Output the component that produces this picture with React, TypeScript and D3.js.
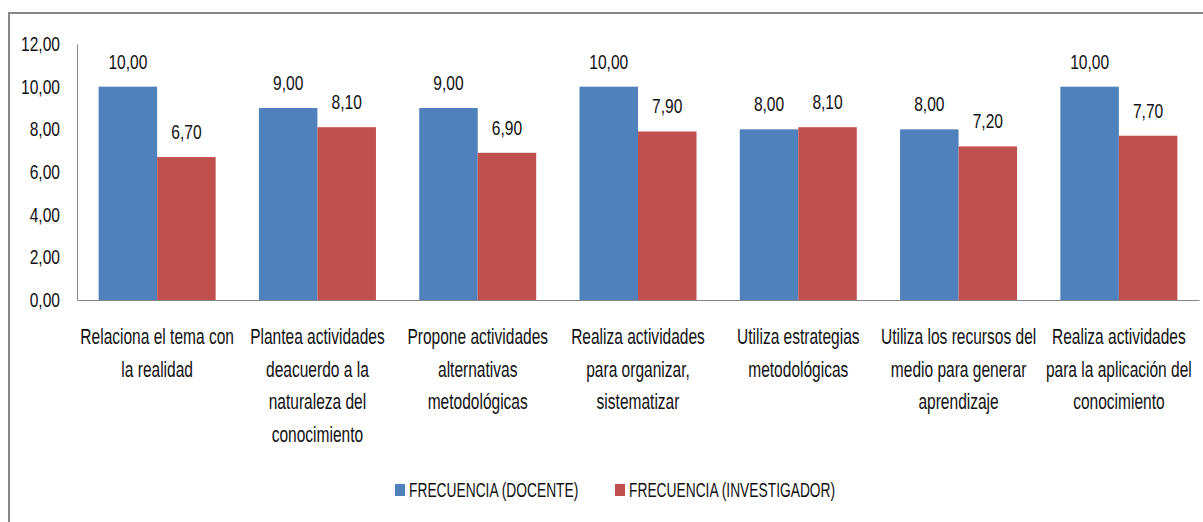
import React, { useRef, useEffect } from 'react';
import * as d3 from 'd3';

const categories = [
  ['Relaciona el tema con', 'la realidad'],
  ['Plantea actividades', 'deacuerdo a la', 'naturaleza del', 'conocimiento'],
  ['Propone actividades', 'alternativas', 'metodológicas'],
  ['Realiza actividades', 'para organizar,', 'sistematizar'],
  ['Utiliza estrategias', 'metodológicas'],
  ['Utiliza los recursos del', 'medio para generar', 'aprendizaje'],
  ['Realiza actividades', 'para la aplicación del', 'conocimiento'],
];
const seriesNames = ['FRECUENCIA (DOCENTE)', 'FRECUENCIA (INVESTIGADOR)'];
const docente = [10, 9, 9, 10, 8, 8, 10];
const investigador = [6.7, 8.1, 6.9, 7.9, 8.1, 7.2, 7.7];
const yTicks = [0, 2, 4, 6, 8, 10, 12];
const colours = ['#4F81BD', '#C0504D'];

const W = 1203;
const H = 522;
// the original text is a squeezed Calibri, so use Arial metrics and squeeze horizontally
const FONT = '"Liberation Sans", Arial, sans-serif';
const SX_NUM = 0.76;
const SX_CAT = 0.706;
const SX_LEG = 0.69;

const locale = d3.formatLocale({ decimal: ',', thousands: '.', grouping: [3], currency: ['', ''] });
const fmt = locale.format('.2f');

const App = () => {
  const ref = useRef<SVGSVGElement>(null);

  useEffect(() => {
    const svg = d3.select(ref.current);
    svg.selectAll('*').remove();

    // chart border (runs off the right and bottom edge like the original)
    svg.append('rect')
      .attr('x', 9).attr('y', 13)
      .attr('width', 1210).attr('height', 530)
      .attr('fill', '#fff')
      .attr('stroke', '#878787')
      .attr('stroke-width', 2);

    const left = 77, right = 1199, top = 44, bottom = 300;
    const keys = categories.map((_, i) => String(i));

    const x = d3.scaleBand().domain(keys).range([left, right]).paddingInner(0.27).paddingOuter(0.135);
    const xs = d3.scaleBand().domain(seriesNames).range([0, x.bandwidth()]);
    const y = d3.scaleLinear().domain([0, 12]).range([bottom, top]);

    // y axis
    const yAxis = svg.append('g')
      .attr('transform', `translate(${left},0)`)
      .call(d3.axisLeft(y).tickValues(yTicks).tickFormat(d => fmt(d as number)).tickSize(0).tickPadding(16));
    yAxis.select('.domain').attr('stroke', '#868686');
    yAxis.selectAll('text')
      .attr('x', -17 / SX_NUM)
      .attr('transform', `scale(${SX_NUM},1)`)
      .attr('font-family', FONT).attr('font-size', 20.5).attr('fill', '#111');

    const series = [docente, investigador];
    series.forEach((vals, si) => {
      const g = svg.append('g');
      g.selectAll('rect')
        .data(vals)
        .join('rect')
        .attr('x', (_, i) => x(keys[i])! + xs(seriesNames[si])!)
        .attr('y', d => y(d))
        .attr('width', xs.bandwidth())
        .attr('height', d => y(0) - y(d))
        .attr('fill', colours[si]);
      g.selectAll('text')
        .data(vals)
        .join('text')
        .attr('transform', (d, i) =>
          `translate(${x(keys[i])! + xs(seriesNames[si])! + xs.bandwidth() / 2},${y(d) - 18}) scale(${SX_NUM},1)`)
        .attr('text-anchor', 'middle')
        .attr('font-family', FONT).attr('font-size', 20.5).attr('fill', '#111')
        .text(d => fmt(d));
    });

    // x axis
    const xAxis = svg.append('g')
      .attr('transform', `translate(0,${bottom})`)
      .call(d3.axisBottom(x).tickSize(0).tickFormat(() => ''));
    xAxis.select('.domain').attr('stroke', '#868686');
    xAxis.selectAll('.tick').each(function (d) {
      const lines = categories[+(d as string)];
      const t = d3.select(this).append('text')
        .attr('text-anchor', 'middle')
        .attr('transform', `scale(${SX_CAT},1)`)
        .attr('font-family', FONT).attr('font-size', 22).attr('fill', '#111');
      lines.forEach((ln, li) => {
        t.append('tspan').attr('x', 0).attr('y', 44 + li * 32.7).text(ln);
      });
    });

    // legend
    const lg = svg.append('g').attr('transform', 'translate(395,490)');
    const offsets = [0, 220];
    seriesNames.forEach((name, i) => {
      lg.append('rect').attr('x', offsets[i]).attr('y', -6).attr('width', 10).attr('height', 12).attr('fill', colours[i]);
      lg.append('text')
        .attr('transform', `translate(${offsets[i] + 14},0) scale(${SX_LEG},1)`)
        .attr('dy', '0.35em')
        .attr('font-family', FONT).attr('font-size', 20).attr('fill', '#111')
        .text(name);
    });
  }, []);

  return (
    <svg ref={ref} width={W} height={H} style={{ position: 'absolute', left: 0, top: 0 }} />
  );
};

export default App;
